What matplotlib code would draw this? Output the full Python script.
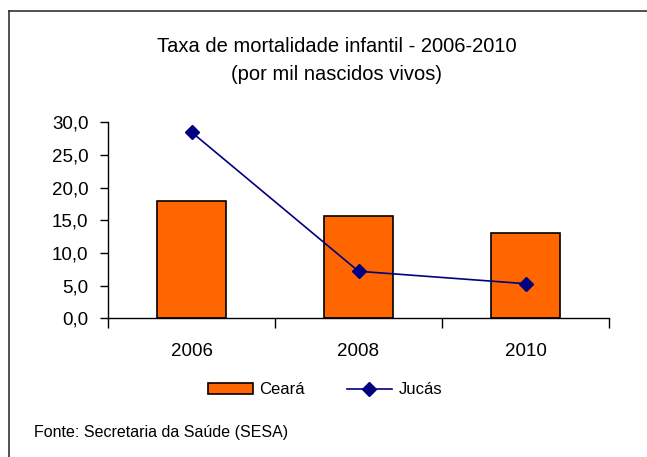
import numpy as np
import matplotlib
matplotlib.use("Agg")
from matplotlib import pyplot as plt
from matplotlib.lines import Line2D

# =======================
# DATA
# =======================

anos = ["2006", "2008", "2010"]
ceara = [18.0, 15.7, 13.0]
jucas = [28.5, 7.2, 5.3]
y_ticks = [0, 5, 10, 15, 20, 25, 30]
y_labels = ["0,0", "5,0", "10,0", "15,0", "20,0", "25,0", "30,0"]

# =======================
# PLOT
# =======================

plt.rcParams['font.family'] = ['Liberation Sans', 'DejaVu Sans']

W, H = 647, 457
fig = plt.figure(figsize=(W / 100, H / 100), dpi=100)
fig.patch.set_facecolor("white")

# frame of the chart area (only top and left visible in the picture)
fig.add_artist(Line2D([9 / W, 1.0], [1 - 11 / H, 1 - 11 / H], color="#333333", lw=1.2))
fig.add_artist(Line2D([9 / W, 9 / W], [0, 1 - 11 / H], color="#333333", lw=1.2))

ax = fig.add_axes([108 / W, 1 - 318.3 / H, (609 - 108) / W, (318.3 - 122.3) / H])
x = np.arange(len(anos))
bars = ax.bar(x, ceara, width=0.41, color="#FF6600", edgecolor="black", linewidth=1.2, zorder=2)
line, = ax.plot(x, jucas, color="#000080", lw=1.2, marker="D", markersize=7, zorder=3)

ax.set_xlim(-0.5, len(anos) - 0.5)
ax.set_ylim(0, 30)
ax.set_yticks(y_ticks)
ax.set_yticklabels(y_labels, fontsize=13.5)
ax.set_xticks(np.arange(-0.5, len(anos)), minor=False)
ax.set_xticklabels([])
ax.set_xticks(x, minor=True)
ax.set_xticklabels(anos, minor=True, fontsize=13.5)
ax.tick_params(axis="x", which="major", direction="out", length=7, width=1)
ax.tick_params(axis="x", which="minor", length=0, pad=18)
ax.tick_params(axis="y", direction="out", length=6, width=1, pad=8)
for side in ["top", "right"]:
    ax.spines[side].set_visible(False)
ax.spines["left"].set_linewidth(1)
ax.spines["bottom"].set_linewidth(1)

fig.text(337 / W, 1 - 47 / H, "Taxa de mortalidade infantil - 2006-2010",
         ha="center", va="center", fontsize=14.5)
fig.text(337 / W, 1 - 74 / H, "(por mil nascidos vivos)",
         ha="center", va="center", fontsize=14.5)

fig.legend([bars, line], ["Ceará", "Jucás"], ncol=2, frameon=False,
           loc="center", bbox_to_anchor=(325 / W, 1 - 390 / H), fontsize=12,
           handlelength=2.7, handleheight=0.6, columnspacing=2.5, handletextpad=0.42)

fig.text(34 / W, 1 - 433 / H, "Fonte: Secretaria da Saúde (SESA)",
         ha="left", va="center", fontsize=11.5)

fig.savefig("out.png", dpi=100, facecolor="white")
